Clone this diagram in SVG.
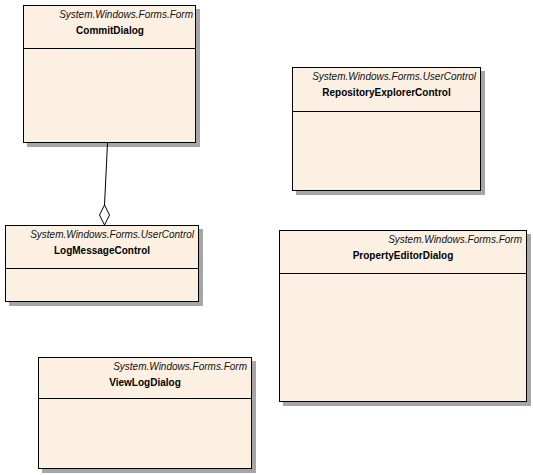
<svg xmlns="http://www.w3.org/2000/svg" width="533" height="475" viewBox="0 0 533 475">
<style>
.shadow{fill:#a6a6a6;stroke:none}
.box{fill:#fbf0e2;stroke:#000;stroke-width:1}
.div{stroke:#000;stroke-width:1}
.st{font-family:"Liberation Sans",Arial,sans-serif;font-size:10px;font-style:italic;fill:#111;text-anchor:end}
.nm{font-family:"Liberation Sans",Arial,sans-serif;font-size:10px;font-weight:bold;fill:#000;text-anchor:middle}
.conn{fill:none;stroke:#000;stroke-width:1}
.dia{fill:#fff;stroke:#000;stroke-width:1}
</style>
<rect width="533" height="475" fill="#fff"/>
<g id="CommitDialog">
<rect class="shadow" x="27" y="9" width="173" height="138"/>
<rect class="box" x="23.5" y="5.5" width="172" height="137"/>
<line class="div" x1="23.5" y1="48.5" x2="195.5" y2="48.5"/>
<text class="st" x="193" y="18">System.Windows.Forms.Form</text>
<text class="nm" x="110" y="34">CommitDialog</text>
</g>
<g id="RepositoryExplorerControl">
<rect class="shadow" x="296" y="71" width="189" height="124"/>
<rect class="box" x="292.5" y="67.5" width="188" height="123"/>
<line class="div" x1="292.5" y1="111.5" x2="480.5" y2="111.5"/>
<text class="st" x="476" y="80">System.Windows.Forms.UserControl</text>
<text class="nm" x="386.5" y="96">RepositoryExplorerControl</text>
</g>
<g id="LogMessageControl">
<rect class="shadow" x="9" y="229" width="194" height="77"/>
<rect class="box" x="5.5" y="225.5" width="193" height="76"/>
<line class="div" x1="5.5" y1="268.5" x2="198.5" y2="268.5"/>
<text class="st" x="194" y="238">System.Windows.Forms.UserControl</text>
<text class="nm" x="102" y="254">LogMessageControl</text>
</g>
<g id="PropertyEditorDialog">
<rect class="shadow" x="283" y="234" width="248" height="172"/>
<rect class="box" x="279.5" y="230.5" width="247" height="171"/>
<line class="div" x1="279.5" y1="273.5" x2="526.5" y2="273.5"/>
<text class="st" x="522" y="243">System.Windows.Forms.Form</text>
<text class="nm" x="403" y="259">PropertyEditorDialog</text>
</g>
<g id="ViewLogDialog">
<rect class="shadow" x="42" y="361" width="214" height="112"/>
<rect class="box" x="38.5" y="357.5" width="213" height="111"/>
<line class="div" x1="38.5" y1="398.5" x2="251.5" y2="398.5"/>
<text class="st" x="247" y="370">System.Windows.Forms.Form</text>
<text class="nm" x="145" y="386">ViewLogDialog</text>
</g>
<g id="connectors">
<path class="conn" d="M107.5 143 L104.5 205"/>
<polygon class="dia" points="104.5,205 99.5,215 104.5,225 109.5,215"/>
</g>
</svg>
